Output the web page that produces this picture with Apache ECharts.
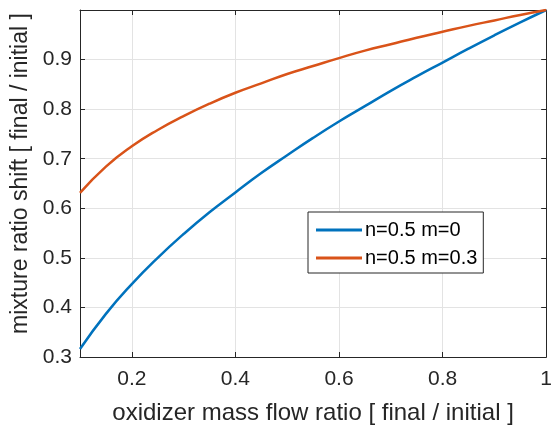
<!DOCTYPE html>
<html><head><meta charset="utf-8">
<script src="https://cdn.jsdelivr.net/npm/echarts@6/dist/echarts.min.js"></script>
<style>html,body{margin:0;padding:0;background:#fff}#c{width:555px;height:430px}</style>
</head><body><div id="c"></div>
<script>
var xValues = [0.1,0.15,0.2,0.25,0.3,0.35,0.4,0.45,0.5,0.55,0.6,0.65,0.7,0.75,0.8,0.85,0.9,0.95,1.0];
var seriesM0 = [0.316,0.387,0.447,0.5,0.548,0.592,0.632,0.671,0.707,0.742,0.775,0.806,0.837,0.866,0.894,0.922,0.949,0.975,1.0];
var seriesM03 = [0.631,0.684,0.725,0.758,0.786,0.811,0.833,0.852,0.871,0.887,0.903,0.918,0.931,0.944,0.956,0.968,0.979,0.990,1.0];
var seriesNames = ['n=0.5 m=0','n=0.5 m=0.3'];
var xTicks = [0.2,0.4,0.6,0.8,1];
var xTickLabels = ['0.2','0.4','0.6','0.8','1'];
var yTicks = [0.3,0.4,0.5,0.6,0.7,0.8,0.9];
var yTickLabels = ['0.3','0.4','0.5','0.6','0.7','0.8','0.9'];

function pairs(xs, ys){ return xs.map(function(x,i){return [x, ys[i]];}); }
var txt = '#262626', font = 'Liberation Sans, Arial, sans-serif';
var chart = echarts.init(document.getElementById('c'));
chart.setOption({
  animation:false,
  textStyle:{fontFamily:font},
  grid:{left:80,right:6,top:10,bottom:70},
  legend:{
    orient:'vertical', left:308, top:212,
    data:seriesNames, icon:'rect', itemWidth:46, itemHeight:3, itemGap:8,
    padding:[8,6,5,8], borderColor:'#262626', borderWidth:1, backgroundColor:'#fff',
    textStyle:{color:'#000',fontSize:20,fontFamily:font,padding:[0,0,0,-2]}
  },
  xAxis:[{
    type:'value', min:0.1, max:1, interval:0.1,
    name:'oxidizer mass flow ratio [ final / initial ]', nameLocation:'middle', nameGap:44,
    nameTextStyle:{color:txt,fontSize:24,fontFamily:font},
    axisLine:{lineStyle:{color:txt,width:1}},
    axisTick:{inside:true,length:5,lineStyle:{color:txt},customValues:xTicks},
    axisLabel:{color:txt,fontSize:21,margin:12,customValues:xTicks,formatter:function(v){var i=xTicks.indexOf(Math.round(v*10)/10);return i>=0?xTickLabels[i]:'';}},
    splitLine:{show:true,lineStyle:{color:'#e3e3e3'}}
  },{
    type:'value', position:'top', min:0.1, max:1, interval:0.1,
    axisLine:{show:true,lineStyle:{color:txt,width:1}},
    axisTick:{show:true,inside:true,length:5,lineStyle:{color:txt},customValues:xTicks},
    axisLabel:{show:false}, splitLine:{show:false}
  }],
  yAxis:[{
    type:'value', min:0.3, max:1, interval:0.1,
    name:'mixture ratio shift [ final / initial ]', nameLocation:'middle', nameGap:42,
    nameTextStyle:{color:txt,fontSize:23,fontFamily:font,padding:[0,0,0,20]},
    axisLine:{show:true,lineStyle:{color:txt,width:1}},
    axisTick:{show:true,inside:true,length:5,lineStyle:{color:txt},customValues:yTicks},
    axisLabel:{color:txt,fontSize:21,margin:8,customValues:yTicks,formatter:function(v){var i=yTicks.indexOf(Math.round(v*10)/10);return i>=0?yTickLabels[i]:'';}},
    splitLine:{show:true,lineStyle:{color:'#e3e3e3'}}
  },{
    type:'value', position:'right', min:0.3, max:1, interval:0.1,
    axisLine:{show:true,lineStyle:{color:txt,width:1}},
    axisTick:{show:true,inside:true,length:5,lineStyle:{color:txt},customValues:yTicks},
    axisLabel:{show:false}, splitLine:{show:false}
  }],
  series:[
    {name:seriesNames[0],type:'line',smooth:true,showSymbol:false,data:pairs(xValues,seriesM0),
     lineStyle:{color:'#0072BD',width:2.5},itemStyle:{color:'#0072BD'}},
    {name:seriesNames[1],type:'line',smooth:true,showSymbol:false,data:pairs(xValues,seriesM03),
     lineStyle:{color:'#D95319',width:2.5},itemStyle:{color:'#D95319'}}
  ]
});
</script></body></html>
